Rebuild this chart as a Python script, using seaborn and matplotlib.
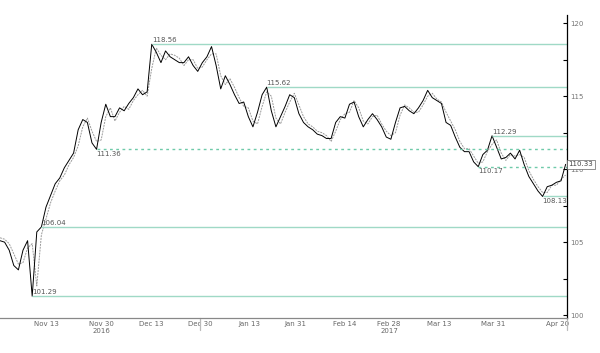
import numpy as np
import matplotlib
matplotlib.use("Agg")
import matplotlib.pyplot as plt
import seaborn as sns

# daily closes (black) and opens (grey)
close = [105.1, 105.0, 104.45, 103.4, 103.1, 104.45, 105.1, 101.29, 105.7, 106.04,
         107.4, 108.2, 109.0, 109.4, 110.1, 110.6, 111.1, 112.7, 113.4, 113.2,
         111.8, 111.36, 113.2, 114.45, 113.6, 113.6, 114.2, 114.0, 114.5, 114.9,
         115.5, 115.1, 115.3, 118.56, 118.0, 117.3, 118.1, 117.7, 117.5, 117.3,
         117.3, 117.7, 117.1, 116.7, 117.3, 117.7, 118.4, 117.1, 115.5, 116.4,
         115.8, 115.1, 114.5, 114.6, 113.6, 112.9, 113.9, 115.1, 115.62, 114.0,
         112.9, 113.6, 114.3, 115.1, 114.9, 113.8, 113.2, 112.9, 112.7, 112.4,
         112.3, 112.1, 112.1, 113.2, 113.6, 113.5, 114.45, 114.6, 113.6, 112.9,
         113.4, 113.8, 113.4, 112.9, 112.2, 112.05, 113.2, 114.2, 114.3, 114.0,
         113.8, 114.2, 114.7, 115.4, 114.9, 114.7, 114.5, 113.2, 113.0, 112.2,
         111.5, 111.2, 111.2, 110.5, 110.17, 111.0, 111.3, 112.29, 111.5, 110.7,
         110.8, 111.1, 110.7, 111.3, 110.3, 109.5, 109.0, 108.5, 108.13, 108.8,
         108.9, 109.1, 109.2, 110.33]
open_ = [105.3, 105.2, 104.9, 104.2, 103.5, 103.6, 104.6, 104.9, 102.0, 105.5,
         106.6, 107.7, 108.5, 109.2, 109.6, 110.3, 110.8, 111.6, 112.9, 113.5,
         112.6, 111.9, 112.0, 113.6, 114.2, 113.3, 113.9, 114.3, 114.1, 114.7,
         115.1, 115.4, 115.0, 116.9, 118.3, 117.8, 117.5, 117.9, 117.8, 117.6,
         117.1, 117.5, 117.5, 116.9, 117.0, 117.5, 117.9, 117.9, 116.4, 115.8,
         116.2, 115.6, 114.9, 114.3, 114.2, 113.3, 113.1, 114.3, 115.3, 115.0,
         113.5, 113.1, 113.9, 114.6, 115.2, 114.4, 113.6, 113.1, 112.9, 112.6,
         112.5, 112.3, 111.9, 112.6, 113.4, 113.8, 113.9, 114.7, 114.2, 113.3,
         113.1, 113.6, 113.7, 113.1, 112.6, 112.3, 112.5, 113.7, 114.4, 114.2,
         113.9, 113.9, 114.4, 115.0, 115.2, 114.8, 114.6, 113.9, 113.3, 112.7,
         111.9, 111.4, 111.4, 110.9, 110.4, 110.5, 111.2, 111.7, 112.0, 111.1,
         110.6, 111.0, 110.9, 111.0, 110.8, 109.9, 109.3, 108.8, 108.4, 108.4,
         108.9, 108.9, 109.3, 109.6]

# support / resistance levels
levels = [118.56, 115.62, 112.29, 111.36, 110.17, 108.13, 106.04, 101.29]
level_dashed = [False, False, False, True, True, False, False, False]
level_below = [False, False, False, True, True, True, False, False]

tick_pos = [10.2, 22, 33, 43.5, 54.3, 64.3, 75, 84.6, 95.6, 107.2, 121.3]
tick_labels = ["Nov 13", "Nov 30\n2016", "Dec 13", "Dec 30", "Jan 13", "Jan 31",
               "Feb 14", "Feb 28\n2017", "Mar 13", "Mar 31", "Apr 20"]
minor_pos = [6.3, 15.9, 27.8, 38.7, 49.3, 59.3, 70, 80, 90.6, 101.3, 112.8, 117.8]

sns.set_style("white")
plt.rcParams["font.family"] = ["DejaVu Sans"]

fig = plt.figure(figsize=(6, 3.53), dpi=100)
ax = fig.add_axes([0.0, 0.099, 0.945, 0.858])

sns.lineplot(x=np.arange(len(open_)), y=open_, ax=ax, color="#9a9a9a",
             linewidth=0.7, linestyle=(0, (2, 1)))
sns.lineplot(x=np.arange(len(close)), y=close, ax=ax, color="black", linewidth=0.7)

xmax = 123.3
teal = "#9fd9c6"
for lv, dsh, below in zip(levels, level_dashed, level_below):
    start = close.index(lv)
    if dsh:
        ax.hlines(lv, start, xmax, color="#6fcaa9", linewidth=1.0,
                  linestyles=(0, (2, 2.5)))
    else:
        ax.hlines(lv, start, xmax, color=teal, linewidth=1.0)
    ax.text(start, lv + (-0.12 if below else 0.06), f"{lv:.2f}",
            fontsize=5, color="#555555", va="top" if below else "bottom", ha="left")

ax.set_xlim(0, xmax)
ax.set_ylim(99.8, 120.55)

ax.yaxis.tick_right()
ax.set_yticks([100, 105, 110, 115, 120])
ax.set_yticks(np.arange(102.5, 120, 5), minor=True)
ax.tick_params(axis="y", which="both", direction="in", length=3, width=0.8,
               labelsize=5, colors="black", labelcolor="#777777", pad=2)

ax.set_xticks(tick_pos)
ax.set_xticklabels(tick_labels)
ax.set_xticks(minor_pos, minor=True)
ax.tick_params(axis="x", which="major", length=0, labelsize=5, labelcolor="#666666", pad=2)
ax.tick_params(axis="x", which="minor", direction="in", length=2, color="#777777")

for s in ["top", "left"]:
    ax.spines[s].set_visible(False)
ax.spines["right"].set_color("black")
ax.spines["right"].set_linewidth(0.9)
ax.spines["bottom"].set_color("#888888")
ax.spines["bottom"].set_linewidth(0.9)

# little separators under the date axis
for xs in [43.5, xmax]:
    ax.plot([xs, xs], [99.8, 98.95], color="#bbbbbb", linewidth=0.9, clip_on=False)

# last price tag
ax.text(xmax + 0.3, close[-1], f"{close[-1]:.2f}", fontsize=5, color="#444444",
        va="center", ha="left", zorder=5,
        bbox=dict(boxstyle="square,pad=0.25", fc="white", ec="#666666", lw=0.5))

plt.savefig("out.png", dpi=100)
